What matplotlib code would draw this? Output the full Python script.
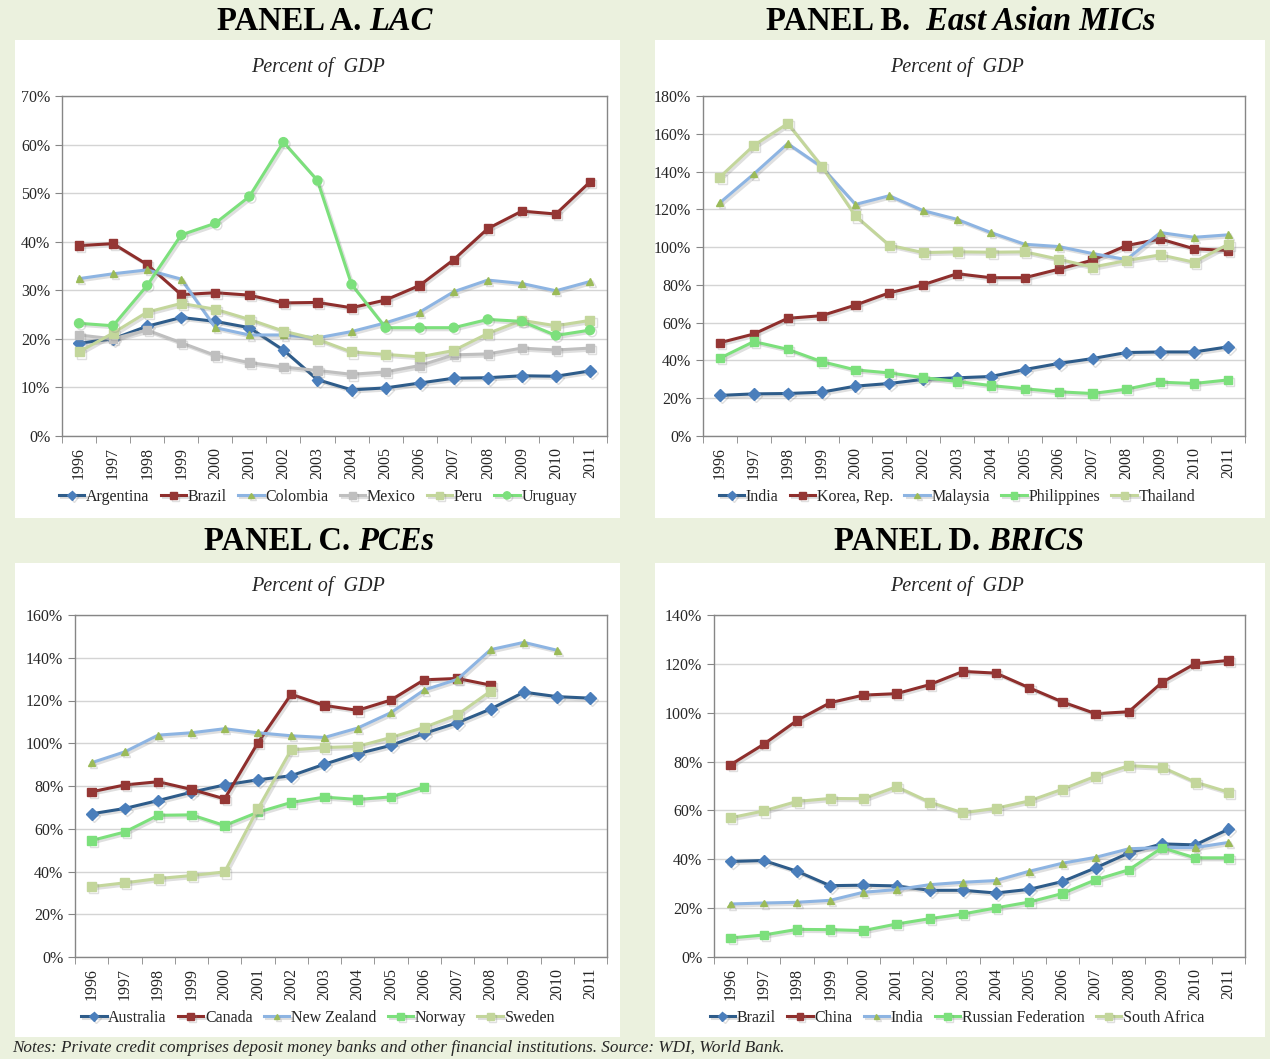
import numpy as np
import matplotlib
matplotlib.use('Agg')
import matplotlib.pyplot as plt
import matplotlib.patheffects as pe
from matplotlib.patches import Rectangle
from matplotlib.ticker import FuncFormatter, MultipleLocator

plt.rcParams['font.family'] = ['Liberation Serif', 'DejaVu Serif']

years = [str(y) for y in range(1996, 2012)]
nan = np.nan

# Panel A - LAC
lac_names = ['Argentina', 'Brazil', 'Colombia', 'Mexico', 'Peru', 'Uruguay']
argentina = [19.1, 20.0, 22.6, 24.4, 23.6, 22.3, 17.7, 11.6, 9.5, 9.9, 10.9, 11.9, 12.0, 12.4, 12.3, 13.4]
brazil_a = [39.2, 39.6, 35.3, 29.1, 29.5, 29.0, 27.4, 27.5, 26.4, 28.0, 31.0, 36.3, 42.7, 46.3, 45.7, 52.3]
colombia = [32.4, 33.4, 34.2, 32.3, 22.3, 20.8, 20.8, 20.2, 21.5, 23.3, 25.5, 29.7, 32.1, 31.4, 29.9, 31.8]
mexico = [20.8, 20.0, 21.8, 19.2, 16.6, 15.1, 14.2, 13.5, 12.7, 13.2, 14.5, 16.7, 16.9, 18.1, 17.7, 18.1]
peru = [17.3, 21.2, 25.5, 27.3, 26.1, 24.0, 21.6, 19.9, 17.3, 16.8, 16.3, 17.6, 21.1, 23.8, 22.7, 23.8]
uruguay = [23.2, 22.7, 31.0, 41.4, 43.8, 49.3, 60.5, 52.6, 31.2, 22.3, 22.3, 22.3, 24.0, 23.6, 20.7, 21.8]

# Panel B - East Asian MICs
eap_names = ['India', 'Korea, Rep.', 'Malaysia', 'Philippines', 'Thailand']
india_b = [21.5, 22.3, 22.5, 23.2, 26.4, 27.8, 30.0, 30.8, 31.5, 35.2, 38.4, 41.0, 44.2, 44.5, 44.5, 47.2]
korea = [49.4, 54.0, 62.3, 63.7, 69.3, 75.8, 80.1, 85.9, 83.8, 83.8, 88.3, 93.1, 100.8, 104.3, 99.1, 98.2]
malaysia = [123.5, 138.7, 154.8, 142.5, 122.6, 127.2, 119.3, 114.7, 107.7, 101.5, 100.3, 96.6, 93.4, 107.7, 105.2, 106.5]
philippines = [41.2, 50.0, 45.9, 39.4, 35.0, 33.4, 30.9, 28.9, 26.7, 25.0, 23.4, 22.5, 24.8, 28.5, 27.8, 29.7]
thailand = [137.1, 153.8, 165.4, 142.9, 116.5, 101.0, 97.1, 97.5, 97.3, 97.5, 93.6, 89.4, 92.9, 95.9, 92.0, 101.5]

# Panel C - PCEs
pce_names = ['Australia', 'Canada', 'New Zealand', 'Norway', 'Sweden']
australia = [67.0, 69.5, 73.2, 77.1, 80.5, 82.9, 84.8, 90.2, 95.1, 99.0, 104.6, 109.6, 116.0, 123.9, 121.8, 121.1]
canada = [77.3, 80.5, 82.0, 78.4, 74.0, 100.2, 122.9, 117.7, 115.4, 120.2, 129.7, 130.3, 127.2, nan, nan, nan]
new_zealand = [90.9, 96.0, 103.8, 104.9, 106.8, 104.9, 103.5, 102.7, 107.1, 114.3, 124.9, 129.9, 143.8, 147.2, 143.5, nan]
norway = [54.5, 58.5, 66.3, 66.5, 61.5, 67.7, 72.3, 74.8, 73.7, 74.9, 79.5, nan, nan, nan, nan, nan]
sweden = [32.9, 34.7, 36.7, 38.1, 39.8, 69.3, 96.9, 98.0, 98.5, 102.7, 107.4, 113.3, 124.4, nan, nan, nan]

# Panel D - BRICS
brics_names = ['Brazil', 'China', 'India', 'Russian Federation', 'South Africa']
brazil_d = [39.1, 39.5, 35.1, 29.2, 29.4, 29.1, 27.3, 27.3, 26.2, 27.7, 30.9, 36.5, 42.6, 46.3, 45.9, 52.3]
china = [78.7, 87.1, 96.8, 104.1, 107.2, 107.8, 111.5, 116.9, 116.2, 110.2, 104.4, 99.6, 100.4, 112.4, 120.1, 121.4]
india_d = [21.7, 22.1, 22.4, 23.2, 26.5, 27.6, 29.6, 30.6, 31.3, 35.1, 38.4, 40.8, 44.3, 44.8, 44.8, 46.9]
russia = [7.8, 9.0, 11.3, 11.2, 10.8, 13.5, 15.7, 17.6, 20.1, 22.5, 26.0, 31.6, 35.7, 44.7, 40.6, 40.6]
south_africa = [57.0, 59.8, 63.7, 64.9, 64.8, 69.7, 63.4, 59.0, 60.9, 63.9, 68.7, 74.0, 78.3, 77.7, 71.6, 67.5]

# styles: (line colour, marker, marker face, marker size)
BLUE = ('#2E5C8A', 'D', '#4A7EBB', 6)
RED = ('#8E2E2C', 's', '#953735', 6)
LBLUE = ('#8DB4E2', '^', '#9BBB59', 5)
GRAY = ('#BFBFBF', 's', '#BFBFBF', 6)
OLIVE = ('#C3D69B', 's', '#C3D69B', 6.5)
GREEN_O = ('#7CE07C', 'o', '#7CE07C', 6.5)
GREEN_S = ('#7CE07C', 's', '#7CE07C', 6)

W, H = 1270, 1059
BG = '#EBF1DE'


def fx(px):
    return px / W


def fy(py):
    return 1 - py / H


fig = plt.figure(figsize=(12.7, 10.59), dpi=100, facecolor=BG)

# white panel boxes
for x0, x1, y0, y1 in [(15, 620, 40, 518), (655, 1265, 40, 518),
                       (15, 620, 563, 1037), (655, 1265, 563, 1037)]:
    fig.add_artist(Rectangle((fx(x0), fy(y1)), fx(x1 - x0), (y1 - y0) / H,
                             transform=fig.transFigure, facecolor='white',
                             edgecolor='none', zorder=0))

shadow = [pe.SimpleLineShadow(offset=(1.5, -1.5), shadow_color='#808080', alpha=0.25),
          pe.Normal()]


def panel(box, ymax, step, names, series, styles, label, italic, split, ty, leg_y, ncol):
    left, right, top, bottom = box
    ax = fig.add_axes([fx(left), fy(bottom), fx(right - left), (bottom - top) / H])
    x = np.arange(len(years))
    for name, vals, st in zip(names, series, styles):
        col, mk, mfc, ms = st
        ax.plot(x, vals, color=col, lw=2.2, marker=mk, ms=ms, mfc=mfc, mec=mfc,
                label=name, path_effects=shadow, zorder=3)
    ax.set_xlim(-0.5, len(years) - 0.5)
    ax.set_ylim(0, ymax)
    ax.yaxis.set_major_locator(MultipleLocator(step))
    ax.yaxis.set_major_formatter(FuncFormatter(lambda v, p: f'{v:.0f}%'))
    ax.grid(axis='y', color='#D4D4D4', lw=1.0, zorder=0)
    ax.set_axisbelow(True)
    ax.set_xticks(x)
    ax.set_xticklabels(years, rotation=90, fontsize=11.5, color='#262626')
    ax.tick_params(axis='x', which='major', length=0, pad=8)
    ax.set_xticks(np.arange(-0.5, len(years)), minor=True)
    ax.tick_params(axis='x', which='minor', length=5, color='#868686', direction='out')
    ax.tick_params(axis='y', length=5, color='#868686', labelsize=11.5, labelcolor='#262626')
    for s in ax.spines.values():
        s.set_color('#868686')
        s.set_linewidth(1.0)
    # panel title
    fig.text(fx(split), fy(ty), label + ' ', ha='right', va='center',
             fontsize=23.5, fontweight='bold')
    fig.text(fx(split), fy(ty), italic, ha='left', va='center',
             fontsize=23.5, fontweight='bold', style='italic')
    fig.text(fx(px_c[label]), fy(top - 29), 'Percent of  GDP', ha='center', va='center',
             fontsize=14.5, style='italic', color='#262626')
    leg = fig.legend(handles=ax.get_lines(), loc='center', ncol=ncol,
                     bbox_to_anchor=(fx(px_c[label]), fy(leg_y)), frameon=False,
                     fontsize=11.5, handlelength=1.6, handletextpad=0.1, columnspacing=0.7,
                     markerscale=0.8)
    for t in leg.get_texts():
        t.set_color('#262626')
    return ax


px_c = {'PANEL A.': 318, 'PANEL B.': 957, 'PANEL C.': 318, 'PANEL D.': 957}

panel((62, 607, 96, 436), 70, 10, lac_names,
      [argentina, brazil_a, colombia, mexico, peru, uruguay],
      [BLUE, RED, LBLUE, GRAY, OLIVE, GREEN_O], 'PANEL A.', 'LAC', 369, 22, 497, 6)
panel((703, 1245, 96, 436), 180, 20, eap_names,
      [india_b, korea, malaysia, philippines, thailand],
      [BLUE, RED, LBLUE, GREEN_S, OLIVE], 'PANEL B.', ' East Asian MICs', 918, 22, 497, 5)
panel((75, 607, 615, 957), 160, 20, pce_names,
      [australia, canada, new_zealand, norway, sweden],
      [BLUE, RED, LBLUE, GREEN_S, OLIVE], 'PANEL C.', 'PCEs', 358, 541, 1018, 5)
panel((714, 1245, 615, 957), 140, 20, brics_names,
      [brazil_d, china, india_d, russia, south_africa],
      [BLUE, RED, LBLUE, GREEN_S, OLIVE], 'PANEL D.', 'BRICS', 988, 541, 1018, 5)

fig.text(fx(12), fy(1040), 'Notes: Private credit comprises deposit money banks and other financial '
         'institutions. Source: WDI, World Bank.', ha='left', va='top',
         fontsize=12.3, style='italic', color='#262626')

fig.savefig('out.png', dpi=100, facecolor=BG)
